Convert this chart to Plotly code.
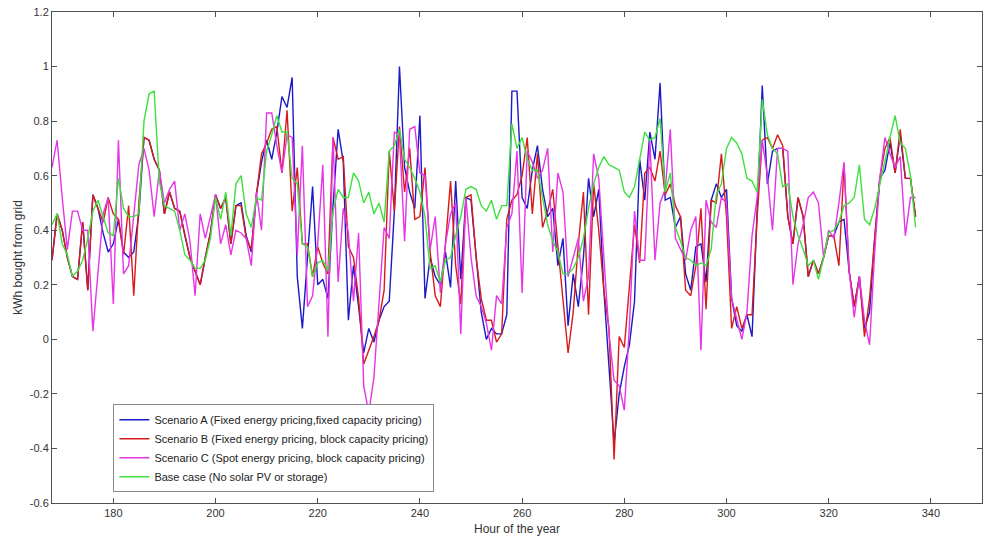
import plotly.graph_objects as go

hours = list(range(168, 338))

scenario_a = [
    0.29, 0.46, 0.40, 0.30, 0.23, 0.22, 0.43, 0.18, 0.53, 0.48,
    0.39, 0.32, 0.35, 0.44, 0.32, 0.30, 0.32, 0.46, 0.74, 0.73,
    0.66, 0.62, 0.46, 0.54, 0.48, 0.47, 0.38, 0.30, 0.25, 0.20,
    0.30, 0.39, 0.53, 0.48, 0.52, 0.35, 0.49, 0.50, 0.38, 0.32,
    0.53, 0.65, 0.73, 0.66, 0.76, 0.89, 0.85, 0.96, 0.23, 0.04,
    0.30, 0.56, 0.20, 0.22, 0.15, 0.49, 0.77, 0.65, 0.07, 0.27,
    0.12, -0.05, 0.04, -0.01, 0.07, 0.12, 0.14, 0.47, 1.00, 0.63,
    0.54, 0.48, 0.82, 0.15, 0.30, 0.23, 0.20, 0.32, 0.19, 0.58,
    0.22, 0.52, 0.51, 0.30, 0.10, 0.00, 0.04, 0.02, 0.02, 0.09,
    0.91, 0.91, 0.52, 0.48, 0.62, 0.71, 0.55, 0.45, 0.48, 0.27,
    0.37, 0.05, 0.24, 0.12, 0.30, 0.59, 0.45, 0.55, 0.18, -0.10,
    -0.38, -0.20, -0.10, -0.02, 0.14, 0.66, 0.51, 0.76, 0.66, 0.94,
    0.51, 0.52, 0.41, 0.45, 0.24, 0.18, 0.34, 0.35, 0.21, 0.51,
    0.57, 0.52, 0.55, 0.15, 0.05, 0.03, 0.09, 0.01, 0.45, 0.93,
    0.57, 0.69, 0.70, 0.70, 0.45, 0.35, 0.52, 0.45, 0.23, 0.29,
    0.24, 0.30, 0.38, 0.38, 0.43, 0.44, 0.25, 0.12, 0.23, 0.04,
    0.10, 0.37, 0.59, 0.62, 0.72, 0.61, 0.75, 0.59, 0.59, 0.45,
]

scenario_b = [
    0.29, 0.46, 0.40, 0.30, 0.23, 0.22, 0.43, 0.18, 0.53, 0.48,
    0.43, 0.52, 0.46, 0.44, 0.31, 0.49, 0.16, 0.50, 0.74, 0.73,
    0.66, 0.62, 0.46, 0.54, 0.48, 0.47, 0.38, 0.30, 0.25, 0.20,
    0.30, 0.39, 0.53, 0.48, 0.52, 0.35, 0.49, 0.49, 0.37, 0.33,
    0.53, 0.68, 0.72, 0.77, 0.78, 0.61, 0.84, 0.47, 0.63, 0.35,
    0.35, 0.23, 0.34, 0.28, 0.24, 0.74, 0.66, 0.67, 0.34, 0.30,
    0.15, -0.09, -0.04, 0.01, 0.07, 0.18, 0.69, 0.47, 0.78, 0.54,
    0.70, 0.44, 0.45, 0.63, 0.32, 0.16, 0.12, 0.35, 0.58, 0.27,
    0.13, 0.52, 0.53, 0.30, 0.15, 0.07, 0.07, -0.01, 0.02, 0.44,
    0.51, 0.53, 0.60, 0.74, 0.46, 0.68, 0.41, 0.47, 0.55, 0.34,
    0.15, -0.05, 0.10, 0.35, 0.54, 0.09, 0.57, 0.40, 0.18, 0.04,
    -0.44, 0.01, -0.03, 0.20, 0.42, 0.28, 0.61, 0.63, 0.58, 0.69,
    0.53, 0.57, 0.49, 0.45, 0.18, 0.16, 0.27, 0.48, 0.11, 0.51,
    0.50, 0.68, 0.45, 0.04, 0.12, 0.04, 0.09, 0.09, 0.45, 0.73,
    0.74, 0.70, 0.75, 0.71, 0.45, 0.35, 0.52, 0.45, 0.23, 0.29,
    0.24, 0.30, 0.38, 0.38, 0.27, 0.64, 0.25, 0.12, 0.23, 0.01,
    0.15, 0.37, 0.59, 0.70, 0.74, 0.61, 0.77, 0.59, 0.59, 0.45,
]

scenario_c = [
    0.63, 0.73, 0.52, 0.33, 0.47, 0.47, 0.40, 0.40, 0.03, 0.25,
    0.46, 0.52, 0.13, 0.73, 0.24, 0.27, 0.45, 0.64, 0.70, 0.62,
    0.45, 0.62, 0.50, 0.55, 0.58, 0.40, 0.46, 0.36, 0.16, 0.46,
    0.37, 0.45, 0.53, 0.35, 0.42, 0.31, 0.40, 0.39, 0.37, 0.27,
    0.54, 0.40, 0.83, 0.83, 0.71, 0.61, 0.75, 0.74, 0.31, 0.71,
    0.12, 0.16, 0.35, 0.64, 0.01, 0.74, 0.21, 0.48, 0.39, 0.14,
    0.39, -0.17, -0.27, -0.14, 0.15, 0.41, 0.37, 0.76, 0.75, 0.36,
    0.77, 0.78, 0.61, 0.60, 0.33, 0.45, 0.17, 0.35, 0.46, 0.50,
    0.02, 0.52, 0.30, 0.16, 0.12, 0.06, -0.04, 0.16, 0.13, 0.41,
    0.46, 0.69, 0.17, 0.69, 0.65, 0.59, 0.62, 0.70, 0.32, 0.61,
    0.54, 0.23, 0.30, 0.37, 0.14, 0.23, 0.68, 0.59, 0.30, 0.02,
    -0.15, -0.17, -0.26, 0.05, 0.47, 0.29, 0.29, 0.73, 0.29, 0.50,
    0.55, 0.77, 0.37, 0.33, 0.29, 0.40, 0.45, -0.04, 0.51, 0.43,
    0.41, 0.52, 0.50, 0.15, 0.08, 0.00, 0.10, 0.38, 0.52, 0.73,
    0.60, 0.40, 0.70, 0.70, 0.69, 0.20, 0.35, 0.42, 0.52, 0.54,
    0.50, 0.30, 0.40, 0.37, 0.50, 0.65, 0.25, 0.08, 0.23, 0.07,
    -0.02, 0.32, 0.59, 0.74, 0.68, 0.63, 0.67, 0.38, 0.52, 0.52,
]

base_case = [
    0.42, 0.46, 0.35, 0.31, 0.23, 0.25, 0.29, 0.37, 0.47, 0.51,
    0.45, 0.39, 0.38, 0.59, 0.48, 0.45, 0.45, 0.46, 0.80, 0.90,
    0.91, 0.58, 0.49, 0.48, 0.47, 0.40, 0.31, 0.29, 0.26, 0.26,
    0.29, 0.37, 0.52, 0.44, 0.54, 0.38, 0.57, 0.60, 0.46, 0.41,
    0.52, 0.51, 0.69, 0.75, 0.82, 0.76, 0.76, 0.59, 0.57, 0.35,
    0.34, 0.23, 0.28, 0.29, 0.25, 0.47, 0.55, 0.52, 0.52, 0.61,
    0.58, 0.50, 0.54, 0.46, 0.50, 0.43, 0.69, 0.71, 0.77, 0.66,
    0.63, 0.59, 0.54, 0.45, 0.26, 0.27, 0.21, 0.29, 0.30, 0.38,
    0.45, 0.55, 0.56, 0.55, 0.49, 0.47, 0.51, 0.44, 0.49, 0.49,
    0.79, 0.70, 0.74, 0.66, 0.62, 0.62, 0.52, 0.42, 0.36, 0.32,
    0.24, 0.24, 0.26, 0.30, 0.37, 0.48, 0.57, 0.63, 0.67, 0.64,
    0.63, 0.62, 0.54, 0.52, 0.56, 0.66, 0.76, 0.73, 0.74, 0.81,
    0.54, 0.61, 0.41, 0.36, 0.30, 0.29, 0.27, 0.28, 0.27, 0.33,
    0.53, 0.57, 0.70, 0.74, 0.72, 0.68, 0.59, 0.58, 0.54, 0.88,
    0.75, 0.70, 0.68, 0.56, 0.57, 0.45, 0.38, 0.33, 0.27, 0.29,
    0.22, 0.30, 0.39, 0.40, 0.43, 0.49, 0.50, 0.52, 0.64, 0.44,
    0.42, 0.48, 0.57, 0.66, 0.74, 0.82, 0.72, 0.70, 0.60, 0.41,
]

series_names = [
    "Scenario A (Fixed energy pricing,fixed capacity pricing)",
    "Scenario B (Fixed energy pricing, block capacity pricing)",
    "Scenario C (Spot energy pricing, block capacity pricing)",
    "Base case (No solar PV or storage)",
]
series_colors = ["#1a1ac8", "#d81a1a", "#e635e6", "#3ee03e"]
series_values = [scenario_a, scenario_b, scenario_c, base_case]

x_ticks = [180, 200, 220, 240, 260, 280, 300, 320, 340]
y_ticks = [-0.6, -0.4, -0.2, 0, 0.2, 0.4, 0.6, 0.8, 1, 1.2]
y_tick_labels = ["-0.6", "-0.4", "-0.2", "0", "0.2", "0.4", "0.6", "0.8", "1", "1.2"]

fig = go.Figure()
for name, color, vals in zip(series_names, series_colors, series_values):
    fig.add_trace(go.Scatter(x=hours, y=vals, mode="lines", name=name,
                             line=dict(color=color, width=1.4)))

axis_common = dict(showline=True, linecolor="#505050", linewidth=1, mirror="ticks",
                   ticks="inside", ticklen=5, tickcolor="#505050", showgrid=False,
                   zeroline=False, tickfont=dict(family="Liberation Sans", size=11, color="#333333"))

fig.update_layout(
    width=983, height=547,
    margin=dict(l=52, r=1, t=12, b=44),
    paper_bgcolor="white", plot_bgcolor="white",
    font=dict(family="Liberation Sans", size=11, color="#333333"),
    xaxis=dict(range=[168, 350], tickvals=x_ticks,
               title=dict(text="Hour of the year", font=dict(size=12), standoff=6),
               **axis_common),
    yaxis=dict(range=[-0.6, 1.2], tickvals=y_ticks, ticktext=y_tick_labels,
               title=dict(text="kWh bought from grid", font=dict(size=12), standoff=4),
               **axis_common),
    legend=dict(x=0.066, y=0.022, xanchor="left", yanchor="bottom",
                bgcolor="white", bordercolor="#8a8a8a", borderwidth=1,
                font=dict(family="Liberation Sans", size=11, color="#222222"),
                tracegroupgap=0),
    showlegend=True,
)

fig.write_html("out.html")
